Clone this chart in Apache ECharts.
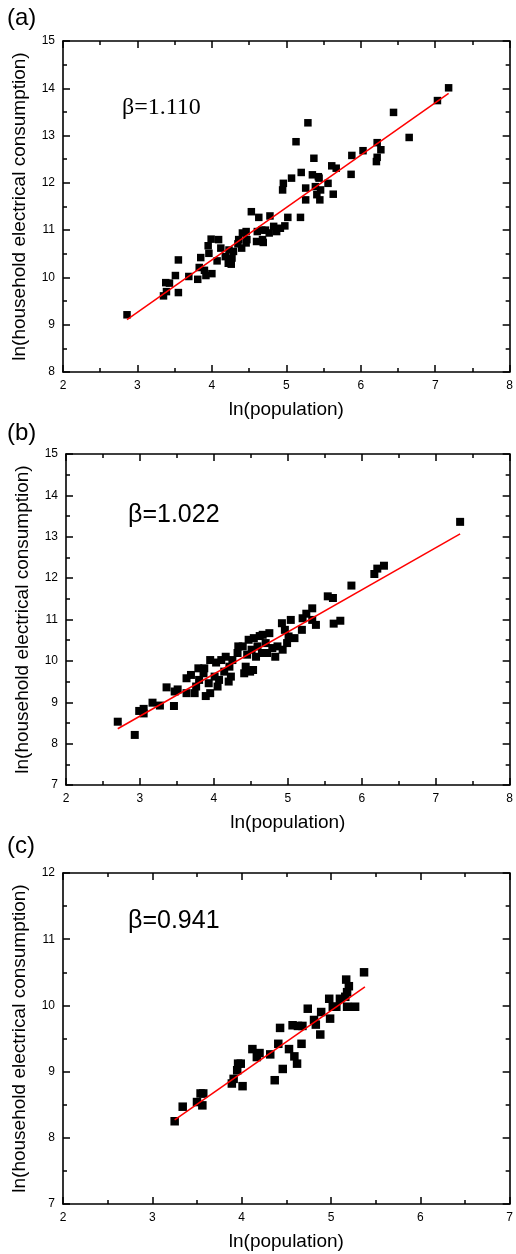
<!DOCTYPE html>
<html>
<head>
<meta charset="utf-8">
<script src="https://cdn.jsdelivr.net/npm/echarts@6/dist/echarts.min.js"></script>
<style>
html,body{margin:0;padding:0;background:#fff;}
#chart{width:516px;height:1254px;}
</style>
</head>
<body>
<div id="chart"></div>
<script>
// ---- data ----
const panelLabels = ['(a)', '(b)', '(c)'];
const betaLabels = ['\u03b2=1.110', '\u03b2=1.022', '\u03b2=0.941'];
const xTitle = 'ln(population)';
const yTitle = 'ln(household electrical consumption)';

const xRanges = [[2, 8], [2, 8], [2, 7]];
const yRanges = [[8, 15], [7, 15], [7, 12]];

const pointsA = [
  [2.86,9.21],[3.35,9.61],[3.38,9.89],[3.39,9.70],[3.43,9.88],[3.51,10.04],[3.55,10.37],[3.55,9.68],
  [3.69,10.02],[3.81,9.96],[3.83,10.21],[3.85,10.42],[3.90,10.15],[3.92,10.04],[3.95,10.67],[3.96,10.51],
  [3.99,10.81],[4.00,10.08],[4.07,10.35],[4.09,10.80],[4.12,10.62],[4.18,10.44],[4.22,10.30],[4.23,10.58],
  [4.25,10.32],[4.26,10.28],[4.27,10.41],[4.29,10.55],[4.35,10.71],[4.36,10.80],[4.40,10.62],[4.41,10.94],
  [4.46,10.73],[4.47,10.80],[4.46,10.97],[4.53,11.39],[4.61,10.97],[4.60,10.76],[4.63,11.27],[4.67,11.00],
  [4.68,10.80],[4.69,10.74],[4.72,11.00],[4.77,10.94],[4.78,11.30],[4.83,11.08],[4.87,10.97],[4.92,11.04],
  [4.95,11.85],[4.96,11.99],[4.98,11.09],[5.02,11.27],[5.07,12.10],[5.13,12.87],[5.19,11.27],[5.20,12.22],
  [5.26,11.64],[5.26,11.89],[5.29,13.27],[5.35,12.17],[5.37,12.52],[5.39,11.92],[5.41,11.75],[5.43,12.13],
  [5.44,12.10],[5.45,11.64],[5.46,11.85],[5.56,11.99],[5.61,12.36],[5.63,11.76],[5.67,12.31],[5.87,12.18],
  [5.88,12.58],[6.03,12.68],[6.21,12.45],[6.22,12.85],[6.22,12.54],[6.27,12.70],[6.44,13.49],[6.65,12.96],
  [7.03,13.74],[7.18,14.01]
];
const pointsB = [
  [2.70,8.53],[2.93,8.21],[2.99,8.79],[3.05,8.84],[3.05,8.73],[3.17,8.99],[3.27,8.92],[3.36,9.36],
  [3.46,8.91],[3.47,9.26],[3.51,9.31],[3.63,9.58],[3.63,9.22],[3.69,9.66],[3.74,9.22],[3.76,9.38],
  [3.79,9.82],[3.80,9.54],[3.86,9.70],[3.87,9.82],[3.89,9.15],[3.93,9.46],[3.95,10.02],[3.95,9.22],
  [4.01,9.62],[4.03,9.96],[4.05,9.38],[4.07,9.54],[4.10,10.02],[4.14,9.74],[4.16,10.10],[4.20,9.50],
  [4.21,9.86],[4.23,9.62],[4.25,10.02],[4.32,10.19],[4.33,10.35],[4.39,10.35],[4.41,9.70],[4.43,9.86],
  [4.45,10.15],[4.47,10.51],[4.49,9.74],[4.51,10.27],[4.53,9.78],[4.54,10.55],[4.57,10.10],[4.59,10.35],
  [4.62,10.60],[4.65,10.19],[4.66,10.63],[4.70,10.43],[4.72,10.19],[4.75,10.67],[4.79,10.31],[4.83,10.10],
  [4.86,10.35],[4.92,10.91],[4.93,10.27],[4.96,10.75],[4.99,10.43],[5.01,10.59],[5.04,10.99],[5.09,10.55],
  [5.19,10.75],[5.20,11.03],[5.25,11.14],[5.33,11.27],[5.33,10.99],[5.38,10.87],[5.54,11.56],[5.61,11.52],
  [5.62,10.90],[5.71,10.97],[5.86,11.82],[6.17,12.10],[6.21,12.23],[6.30,12.30],[7.33,13.36]
];
const pointsC = [
  [3.25,8.25],[3.34,8.47],[3.50,8.54],[3.54,8.67],[3.57,8.67],[3.56,8.49],[3.89,8.82],[3.91,8.89],
  [3.95,9.02],[3.96,9.12],[3.99,9.12],[4.01,8.78],[4.12,9.34],[4.17,9.22],[4.20,9.28],[4.32,9.26],
  [4.37,8.87],[4.41,9.42],[4.43,9.66],[4.46,9.04],[4.53,9.34],[4.57,9.70],[4.59,9.23],[4.62,9.12],
  [4.63,9.69],[4.67,9.42],[4.68,9.69],[4.74,9.95],[4.81,9.78],[4.83,9.71],[4.88,9.56],[4.89,9.90],
  [4.98,10.10],[4.99,9.80],[5.02,9.98],[5.06,9.98],[5.10,10.10],[5.16,10.13],[5.17,10.39],[5.18,9.98],
  [5.18,10.20],[5.20,10.29],[5.27,9.98],[5.37,10.50]
];
const fitA = [[2.86,9.11],[7.18,13.89]];
const fitB = [[2.70,8.36],[7.33,13.07]];
const fitC = [[3.25,8.27],[5.38,10.28]];

// ---- layout ----
const grids = [
  {left: 63, top: 41, width: 449, height: 331},
  {left: 66, top: 454, width: 446, height: 331},
  {left: 63, top: 873, width: 449, height: 331}
];
const allPoints = [pointsA, pointsB, pointsC];
const allFits = [fitA, fitB, fitC];
const symSizes = [7.5, 8, 8.5];

function makeAxis(i, pos, range, withLabel, isX) {
  const ax = {
    gridIndex: i, type: 'value', position: pos,
    min: range[0], max: range[1], interval: 1,
    splitLine: {show: false},
    axisLine: {show: true, onZero: false, lineStyle: {color: '#000', width: 1.6}},
    axisTick: {show: true, inside: true, length: 7, lineStyle: {color: '#000', width: 1.5}},
    minorTick: {show: true, splitNumber: 2, length: 4, lineStyle: {color: '#000', width: 1.5}},
    axisLabel: withLabel
      ? {show: true, color: '#000', fontSize: 12, fontFamily: 'Liberation Sans, Arial', margin: 8}
      : {show: false}
  };
  if (withLabel) {
    ax.name = isX ? xTitle : yTitle;
    ax.nameLocation = 'middle';
    ax.nameGap = isX ? 28 : 34;
    ax.nameTextStyle = {color: '#000', fontSize: 19, fontFamily: 'Liberation Sans, Arial'};
  }
  return ax;
}

const xAxes = [], yAxes = [], series = [];
grids.forEach((g, i) => {
  xAxes.push(makeAxis(i, 'bottom', xRanges[i], true, true));
  xAxes.push(makeAxis(i, 'top', xRanges[i], false, true));
  yAxes.push(makeAxis(i, 'left', yRanges[i], true, false));
  yAxes.push(makeAxis(i, 'right', yRanges[i], false, false));
  series.push({
    type: 'scatter', xAxisIndex: 2 * i, yAxisIndex: 2 * i,
    data: allPoints[i], symbol: 'rect', symbolSize: symSizes[i],
    itemStyle: {color: '#000', opacity: 1}, silent: true, z: 2
  });
  series.push({
    type: 'line', xAxisIndex: 2 * i, yAxisIndex: 2 * i,
    data: allFits[i], symbol: 'none', lineStyle: {color: '#ff0000', width: 1.5},
    silent: true, z: 3
  });
});

const labelPos = [[7, 6], [7, 421], [7, 834]];
const betaPos = [[122, 96], [128, 503], [128, 909]];
const betaFonts = ['24px "Liberation Serif", "Times New Roman", serif', '25px "Liberation Sans", Arial, sans-serif', '25px "Liberation Sans", Arial, sans-serif'];
const graphics = [];
panelLabels.forEach((t, i) => {
  graphics.push({type: 'text', left: labelPos[i][0], top: labelPos[i][1],
    style: {text: t, fill: '#000', font: '24px "Liberation Sans", Arial, sans-serif'}});
  graphics.push({type: 'text', left: betaPos[i][0], top: betaPos[i][1],
    style: {text: betaLabels[i], fill: '#000', font: betaFonts[i]}});
});

const chart = echarts.init(document.getElementById('chart'), null, {renderer: 'canvas'});
chart.setOption({
  animation: false,
  backgroundColor: '#fff',
  grid: grids,
  xAxis: xAxes,
  yAxis: yAxes,
  series: series,
  graphic: graphics
});
</script>
</body>
</html>
